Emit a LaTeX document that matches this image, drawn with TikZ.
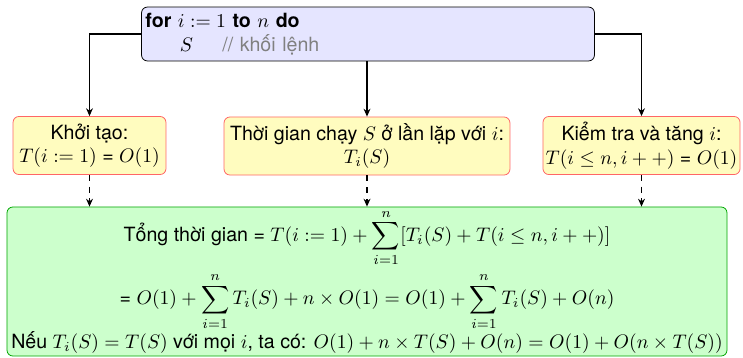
\documentclass[tikz,border=0pt]{standalone}
\usepackage{fontspec}
\setmainfont{TeX Gyre Heros}
\usetikzlibrary{arrows.meta,calc}
\begin{document}
\begin{tikzpicture}[x=0.51pt,y=-0.51pt,
  loopbox/.style={draw=black,fill=blue!10,rounded corners=3pt,align=left,
    text width=227pt,minimum height=27.5pt,inner sep=2pt},
  partbox/.style={draw=red!60,fill=yellow!25,rounded corners=3pt,align=center,
    minimum height=29.6pt,inner sep=1pt},
  totalbox/.style={draw=green!65!black,fill=green!20,rounded corners=3pt,align=center,
    minimum width=367.2pt,minimum height=76pt,inner sep=1pt},
  flow/.style={-{Stealth[length=4pt,width=3.5pt]},semithick},
  costflow/.style={flow,dashed}]
\useasboundingbox (0,0) rectangle (743,357);

\node[loopbox] (loop) at (368,34)
  {\textbf{for} $i := 1$ \textbf{to} $n$ \textbf{do}\\
   \hspace*{1.75em}$S$\hspace*{1.5em}{\color{gray}// khối lệnh}};

\node[partbox,minimum width=78pt] (init) at (89.5,145.5) {Khởi tạo:\\ $T(i := 1)$ = $O(1)$};
\node[partbox,minimum width=145.8pt] (body) at (367,146) {Thời gian chạy $S$ ở lần lặp với $i$:\\ $T_i(S)$};
\node[partbox,minimum width=100.5pt] (step) at (641.5,145.5) {Kiểm tra và tăng $i$:\\ $T(i \leq n, i++)$ = $O(1)$};

\node[totalbox] (total) at (367,281.5)
  {Tổng thời gian = $\displaystyle T(i := 1) + \sum_{i=1}^{n}[T_i(S) + T(i \leq n, i++)]$\\[2pt]
   = $\displaystyle O(1) + \sum_{i=1}^{n} T_i(S) + n \times O(1) = O(1) + \sum_{i=1}^{n} T_i(S) + O(n)$\\
   Nếu $T_i(S) = T(S)$ với mọi $i$, ta có: $O(1) + n \times T(S) + O(n) = O(1) + O(n \times T(S))$};

\draw[flow] (loop.west) -| (init.north);
\draw[flow] (body.north |- loop.south) -- (body.north);
\draw[flow] (loop.east) -| (step.north);

\draw[costflow] (init.south) -- (init.south |- total.north);
\draw[costflow] (body.south) -- (body.south |- total.north);
\draw[costflow] (step.south) -- (step.south |- total.north);
\end{tikzpicture}
\end{document}
